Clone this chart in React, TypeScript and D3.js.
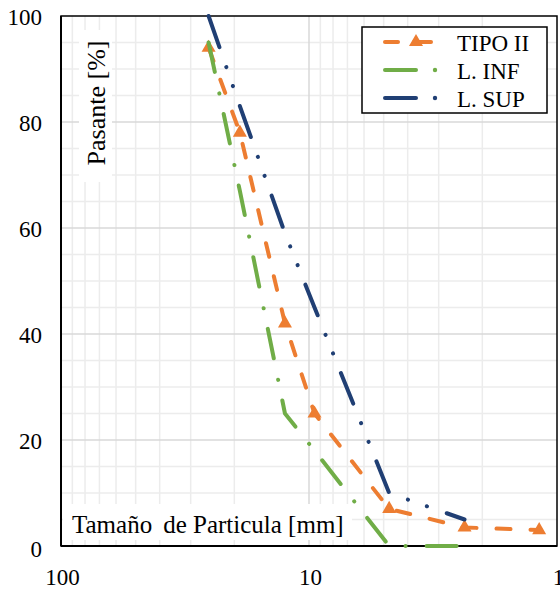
import React, { useEffect, useRef } from 'react'
import * as d3 from 'd3'

// tamaños de tamiz (mm) y porcentajes que pasan
const sizes = [25.4, 19, 12.5, 9.5, 4.75, 2.36, 1.18]
const tipoII = [94, 78, 42, 25, 7, 3.5, 3]
const limInf = [95, 67, 25, 18, 0, 0]
const limSup = [100, 83, 59, 45, 10, 5]

const yTicks = [0, 20, 40, 60, 80, 100]
const xTicks = [100, 10, 1]

const W = 560
const H = 591
const font = '"Liberation Serif", "Times New Roman", serif'

const ORANGE = '#ed7d31'
const GREEN = '#70ad47'
const NAVY = '#203f74'

const App = () => {
  const ref = useRef<SVGSVGElement>(null)

  useEffect(() => {
    const svg = d3.select(ref.current)
    svg.selectAll('*').remove()

    const x = d3.scaleLog().domain([100, 1]).range([61, 557])
    const y = d3.scaleLinear().domain([0, 100]).range([546, 16])

    // grid menor
    const minorX: number[] = []
    ;[10, 1].forEach(dec => { for (let k = 2; k <= 9; k++) minorX.push(dec * k) })
    const g = svg.append('g')
    g.selectAll('.mx').data(minorX).enter().append('line')
      .attr('x1', d => x(d)).attr('x2', d => x(d))
      .attr('y1', y(0)).attr('y2', y(100))
      .attr('stroke', '#ececec').attr('stroke-width', 1.5)
    g.selectAll('.my').data(d3.range(5, 100, 5).filter(v => v % 20 !== 0)).enter().append('line')
      .attr('x1', x(100)).attr('x2', x(1))
      .attr('y1', d => y(d)).attr('y2', d => y(d))
      .attr('stroke', '#ececec').attr('stroke-width', 1.5)
    // grid mayor
    g.selectAll('.Mx').data([10]).enter().append('line')
      .attr('x1', d => x(d)).attr('x2', d => x(d))
      .attr('y1', y(0)).attr('y2', y(100))
      .attr('stroke', '#d9d9d9').attr('stroke-width', 1.5)
    g.selectAll('.My').data([20, 40, 60, 80]).enter().append('line')
      .attr('x1', x(100)).attr('x2', x(1))
      .attr('y1', d => y(d)).attr('y2', d => y(d))
      .attr('stroke', '#d9d9d9').attr('stroke-width', 1.5)

    // cajas blancas de los títulos
    svg.append('rect').attr('x', 79).attr('y', 30).attr('width', 33).attr('height', 152).attr('fill', 'white')
    svg.append('rect').attr('x', 63).attr('y', 504).attr('width', 289).attr('height', 36).attr('fill', 'white')

    svg.append('text')
      .attr('transform', 'translate(105,103) rotate(-90)')
      .attr('text-anchor', 'middle')
      .attr('font-family', font).attr('font-size', 26)
      .text('Pasante [%]')
    const t = svg.append('text')
      .attr('x', 72).attr('y', 533)
      .attr('font-family', font).attr('font-size', 25)
    t.append('tspan').text('Tamaño')
    t.append('tspan').attr('dx', 11).text('de Particula [mm]')

    // borde
    svg.append('rect').attr('x', x(100)).attr('y', y(100))
      .attr('width', x(1) - x(100)).attr('height', y(0) - y(100))
      .attr('fill', 'none').attr('stroke', 'black').attr('stroke-width', 1.5)
    svg.append('line').attr('x1', x(100)).attr('x2', x(1)).attr('y1', y(0)).attr('y2', y(0))
      .attr('stroke', 'black').attr('stroke-width', 2)
    svg.append('line').attr('x1', x(100)).attr('x2', x(100)).attr('y1', y(0)).attr('y2', y(100))
      .attr('stroke', 'black').attr('stroke-width', 2)

    // ticks
    svg.selectAll('.yt').data(yTicks).enter().append('text')
      .attr('x', 42).attr('y', d => d === 0 ? y(d) + 3 : y(d) + 1)
      .attr('text-anchor', 'end').attr('dominant-baseline', 'central')
      .attr('font-family', font).attr('font-size', 23)
      .text(d => d)
    svg.selectAll('.xt').data(xTicks).enter().append('text')
      .attr('x', d => x(d) + 1.5).attr('y', 577)
      .attr('text-anchor', 'middle').attr('dominant-baseline', 'central')
      .attr('font-family', font).attr('font-size', 23)
      .text(d => d)

    const line = d3.line<[number, number]>().x(d => x(d[0])).y(d => y(d[1]))
    const series = [
      { vals: tipoII, color: ORANGE, dash: '14 20' },
      { vals: limInf, color: GREEN, dash: '30 22 0.1 21' },
      { vals: limSup, color: NAVY, dash: '33 21 0.1 20 0.1 21' },
    ]
    series.forEach(s => {
      const pts = s.vals.map((v, i) => [sizes[i], v] as [number, number])
      svg.append('path').attr('d', line(pts))
        .attr('fill', 'none').attr('stroke', s.color).attr('stroke-width', 4)
        .attr('stroke-linecap', 'round').attr('stroke-linejoin', 'round')
        .attr('stroke-dasharray', s.dash)
      if (s.color === ORANGE) {
        svg.selectAll('.tri').data(pts).enter().append('path')
          .attr('d', d3.symbol(d3.symbolTriangle, 85)())
          .attr('transform', d => `translate(${x(d[0])},${y(d[1])})`)
          .attr('fill', ORANGE)
      }
    })

    // leyenda
    const lg = svg.append('g')
    lg.append('rect').attr('x', 362).attr('y', 27).attr('width', 185).attr('height', 86)
      .attr('fill', 'white').attr('stroke', 'black').attr('stroke-width', 1.5)
    const rows = [
      { label: 'TIPO II', color: ORANGE, yy: 42 },
      { label: 'L. INF', color: GREEN, yy: 70 },
      { label: 'L. SUP', color: NAVY, yy: 98 },
    ]
    rows.forEach(r => {
      if (r.color === ORANGE) {
        lg.append('line').attr('x1', 385).attr('x2', 398).attr('y1', r.yy).attr('y2', r.yy)
          .attr('stroke', r.color).attr('stroke-width', 4).attr('stroke-linecap', 'round')
        lg.append('line').attr('x1', 414).attr('x2', 431).attr('y1', r.yy).attr('y2', r.yy)
          .attr('stroke', r.color).attr('stroke-width', 4).attr('stroke-linecap', 'round')
        lg.append('path').attr('d', d3.symbol(d3.symbolTriangle, 85)())
          .attr('transform', `translate(416,${r.yy})`).attr('fill', r.color)
      } else {
        lg.append('line').attr('x1', 385).attr('x2', 416).attr('y1', r.yy).attr('y2', r.yy)
          .attr('stroke', r.color).attr('stroke-width', 4).attr('stroke-linecap', 'round')
        lg.append('circle').attr('cx', 435).attr('cy', r.yy).attr('r', 2.2).attr('fill', r.color)
      }
      lg.append('text').attr('x', 457).attr('y', r.yy + 1)
        .attr('dominant-baseline', 'central')
        .attr('font-family', font).attr('font-size', 23)
        .text(r.label)
    })
  }, [])

  return (
    <div style={{ position: 'absolute', left: 0, top: 0 }}>
      <svg ref={ref} width={W} height={H} style={{ display: 'block', background: 'white' }} />
    </div>
  )
}

export default App
